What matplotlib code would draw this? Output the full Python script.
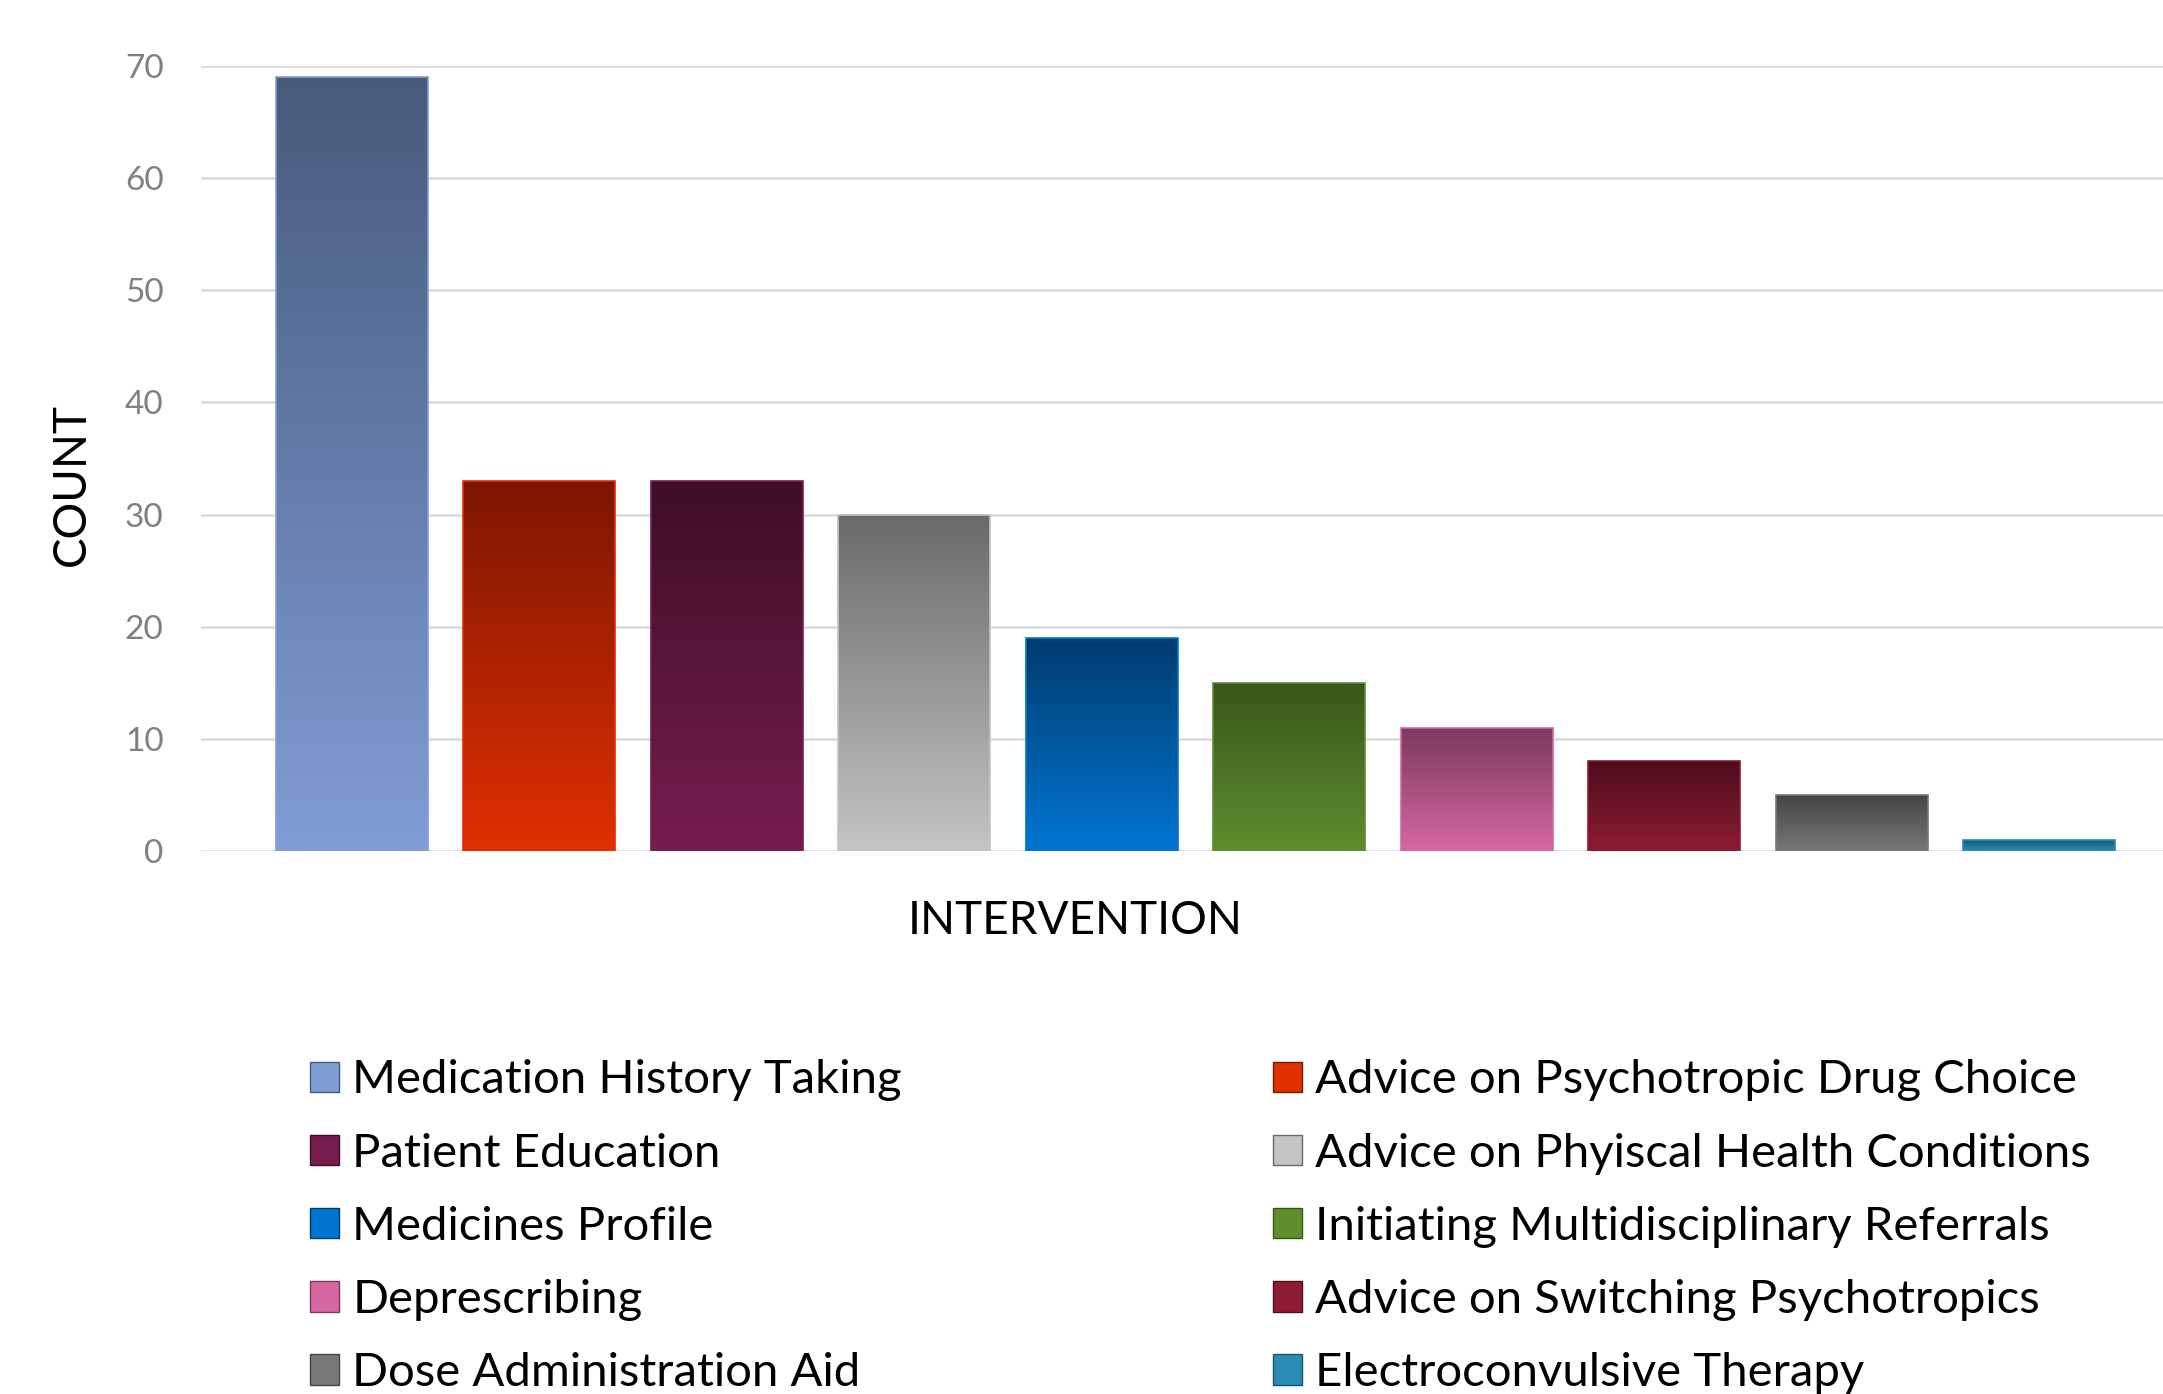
import matplotlib
matplotlib.use("Agg")
from matplotlib import pyplot as plt
from matplotlib.colors import LinearSegmentedColormap
from matplotlib.patches import Patch
import numpy as np

plt.rcParams['font.family'] = ['Lato', 'DejaVu Sans']

labels = ['Medication History Taking', 'Advice on Psychotropic Drug Choice',
          'Patient Education', 'Advice on Phyiscal Health Conditions',
          'Medicines Profile', 'Initiating Multidisciplinary Referrals',
          'Deprescribing', 'Advice on Switching Psychotropics',
          'Dose Administration Aid', 'Electroconvulsive Therapy']
counts = [69, 33, 33, 30, 19, 15, 11, 8, 5, 1]
# (top colour, bottom colour) for the gradient fill of each bar
top_colors = ['#485a7c', '#7c1600', '#3e0e27', '#6a6a6a', '#003c6e',
              '#38561a', '#7a3a5c', '#4e0c1c', '#444444', '#165570']
bottom_colors = ['#809dd6', '#e03000', '#761d4e', '#c4c4c4', '#0075d2',
                 '#5e8e2e', '#d667a2', '#8c1c32', '#787878', '#2a8cb4']

fig = plt.figure(figsize=(21.63, 13.94), dpi=100)
ax = fig.add_axes([0.0929, 0.3895, 0.9071, 0.5632])

x = np.arange(len(counts))
bars = ax.bar(x, counts, width=0.81, color='none', zorder=3)

grad = np.linspace(0, 1, 256).reshape(-1, 1)
for b, top, bot in zip(bars, top_colors, bottom_colors):
    cmap = LinearSegmentedColormap.from_list('g', [bot, top])
    x0, y0 = b.get_x(), b.get_y()
    w, h = b.get_width(), b.get_height()
    im = ax.imshow(grad, extent=[x0, x0 + w, y0, y0 + h], origin='lower',
                   aspect='auto', cmap=cmap, zorder=3)
    im.set_clip_path(b)
    b.set_edgecolor(bot)
    b.set_linewidth(1.2)
    b.set_zorder(4)

ax.set_xlim(-0.805, 9.66)
ax.set_ylim(0, 70)
ax.set_yticks(range(0, 71, 10))
ax.set_xticks([])
ax.grid(axis='y', color='#d9d9d9', linewidth=1.8)
ax.set_axisbelow(True)
for s in ax.spines.values():
    s.set_visible(False)
ax.tick_params(axis='y', length=0, pad=27, labelsize=24, labelcolor='#808080')

ax.set_ylabel('COUNT', fontsize=33, color='black')
ax.yaxis.set_label_coords(-0.055, 0.4675)
ax.set_xlabel('INTERVENTION', fontsize=33, color='black')
ax.xaxis.set_label_coords(0.4455, -0.062)

# legend laid out row by row: left column gets the even items
order = [0, 2, 4, 6, 8, 1, 3, 5, 7, 9]
handles = [Patch(facecolor=bottom_colors[i], edgecolor=top_colors[i]) for i in order]
fig.legend(handles, [labels[i] for i in order], ncol=2, loc='upper left',
           bbox_to_anchor=(0.1433, 0.240), frameon=False, fontsize=34,
           handlelength=0.62, handleheight=0.62, handletextpad=0.28,
           labelspacing=0.66, columnspacing=7.85, borderpad=0, borderaxespad=0)

fig.savefig('out.png', dpi=100)
